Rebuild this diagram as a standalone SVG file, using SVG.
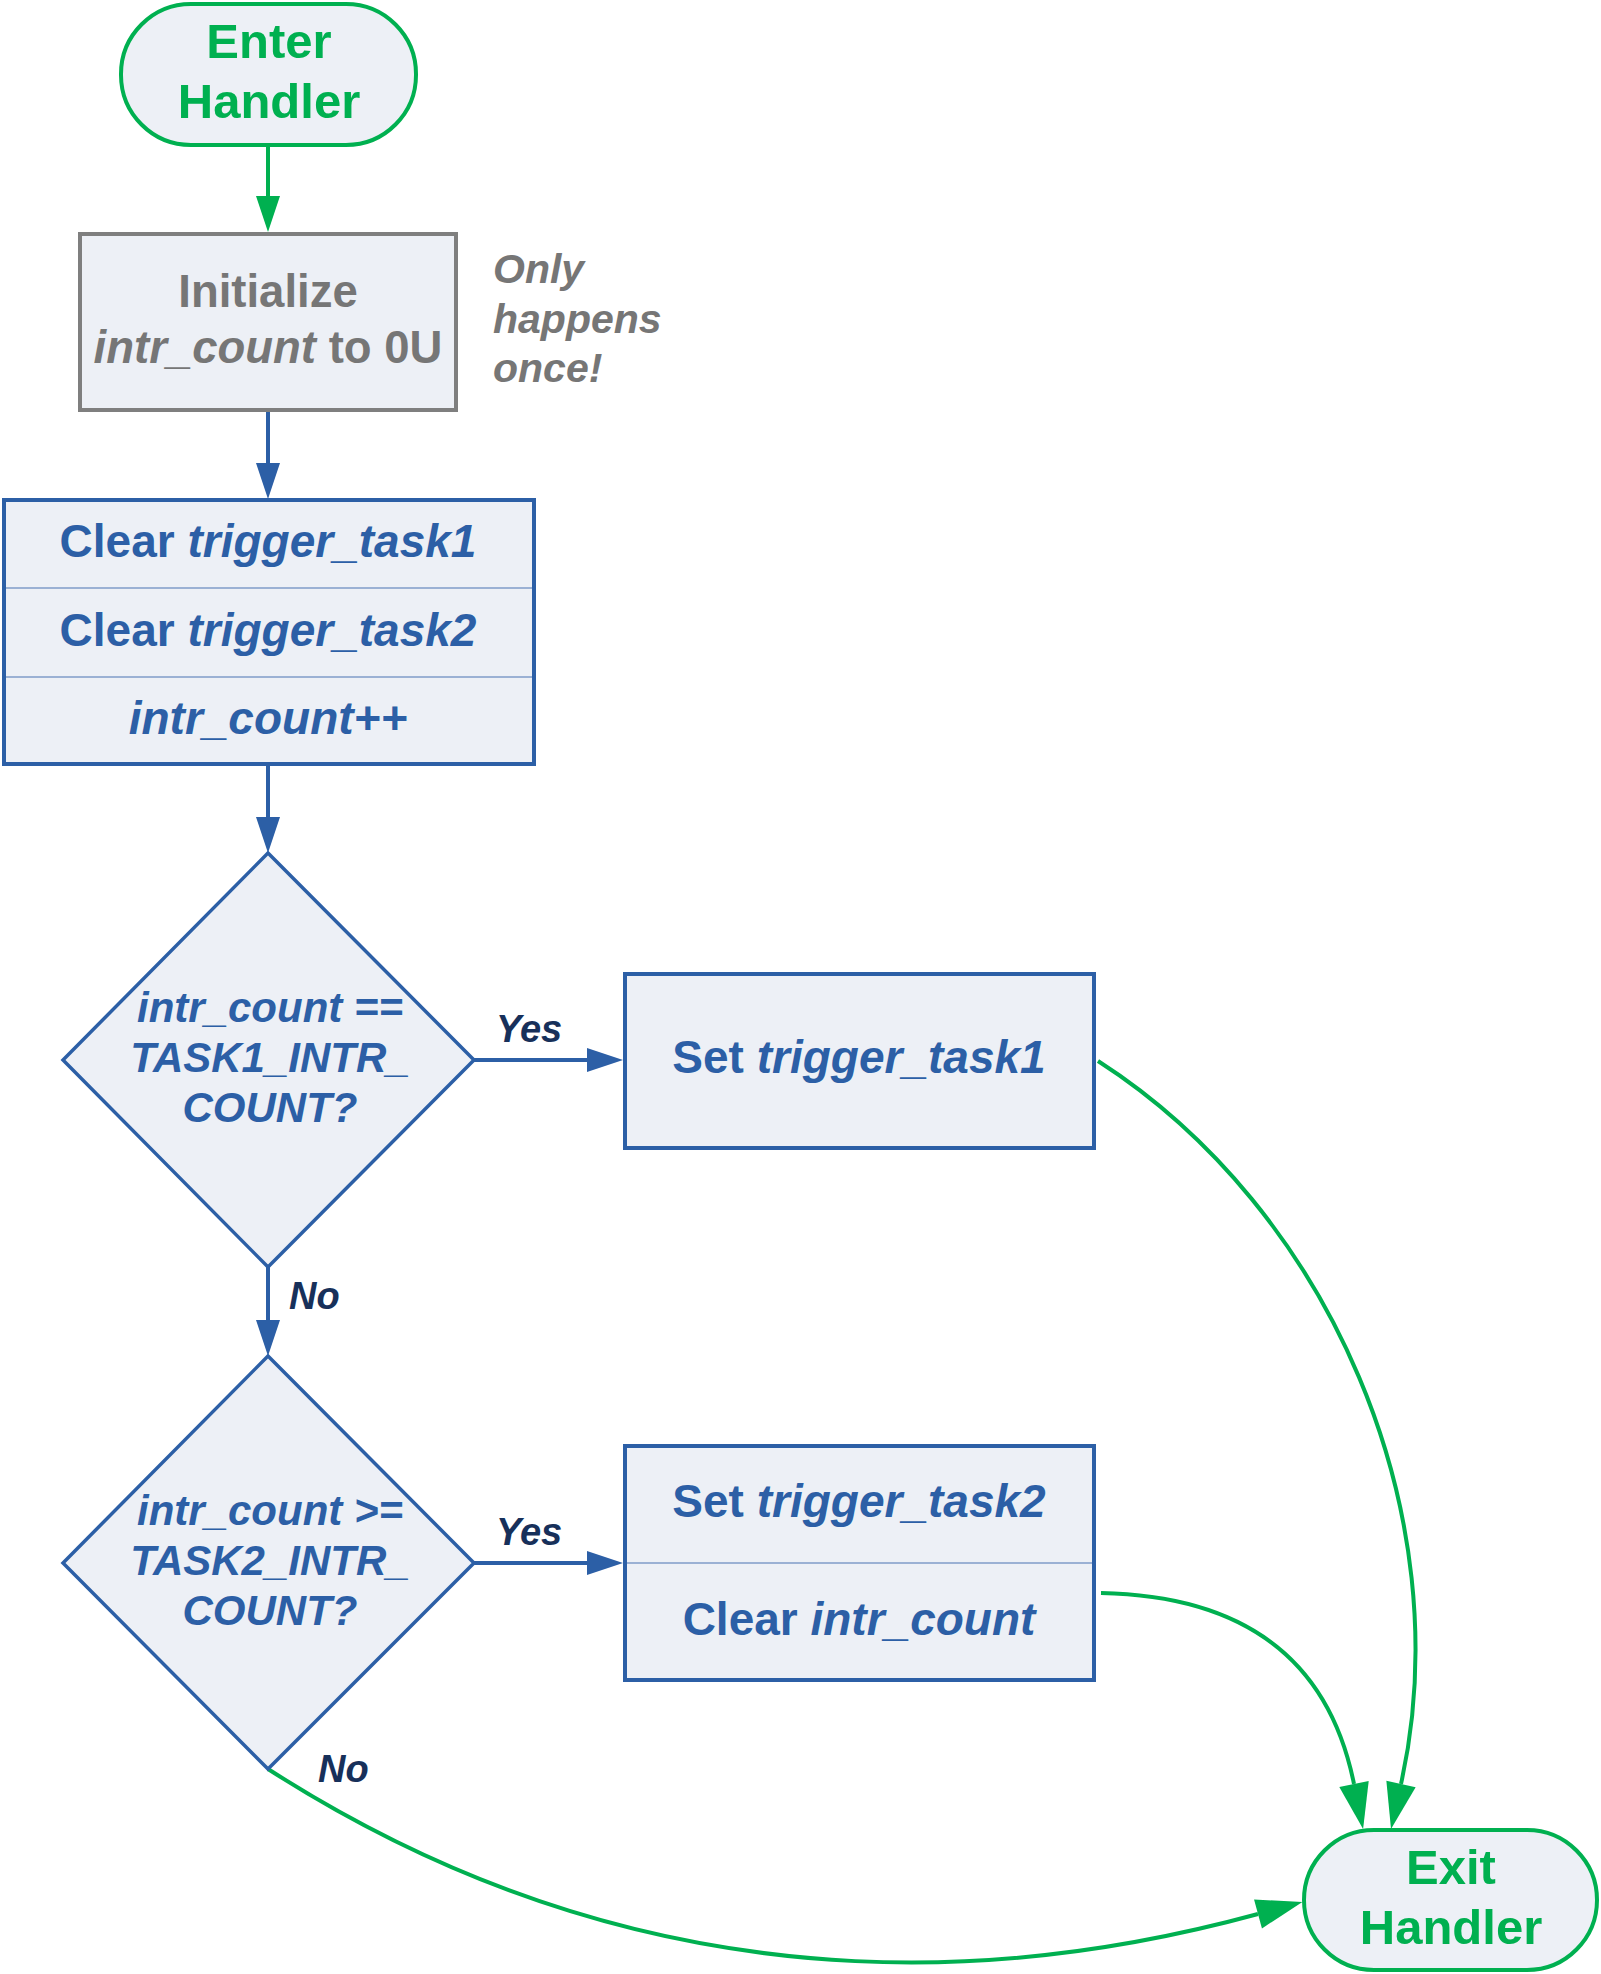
<svg xmlns="http://www.w3.org/2000/svg" width="1601" height="1974" viewBox="0 0 1601 1974">
<style>
text{font-family:"Liberation Sans",Arial,sans-serif;font-weight:bold;}
.c{text-anchor:middle;}
.i{font-style:italic;}
.term{fill:#EDF0F6;stroke:#00B050;stroke-width:4;}
.tg{fill:#00B050;font-size:49px;}
.box{fill:#EDF0F6;stroke:#2C5FA6;stroke-width:4;}
.gbox{fill:#EDF0F6;stroke:#7F7F7F;stroke-width:4;}
.dia{fill:#EDF0F6;stroke:#2C5FA6;stroke-width:3.5;stroke-linejoin:miter;}
.div{stroke:#7F9DC9;stroke-width:1.5;}
.bt{fill:#2C5FA6;font-size:46px;}
.dt{fill:#2C5FA6;font-size:42px;font-style:italic;}
.gt{fill:#767676;font-size:45.5px;}
.note{fill:#767676;font-size:41px;font-style:italic;}
.lbl{fill:#17305A;font-size:38px;font-style:italic;}
.cb{fill:none;stroke:#2C5FA6;stroke-width:4;}
.cg{fill:none;stroke:#00B050;stroke-width:4;}
</style>
<defs>
<marker id="ab" markerUnits="userSpaceOnUse" markerWidth="36" markerHeight="24" refX="0" refY="12" orient="auto" overflow="visible"><path d="M0,0 L36,12 L0,24 z" fill="#2C5FA6"/></marker>
<marker id="ag" markerUnits="userSpaceOnUse" markerWidth="36" markerHeight="24" refX="0" refY="12" orient="auto" overflow="visible"><path d="M0,0 L36,12 L0,24 z" fill="#00B050"/></marker>
<marker id="agl" markerUnits="userSpaceOnUse" markerWidth="46" markerHeight="30" refX="0" refY="15" orient="auto" overflow="visible"><path d="M0,0 L46,15 L0,30 z" fill="#00B050"/></marker>
</defs>

<g id="connectors">
<path class="cg" d="M268,147 L268,196" marker-end="url(#ag)"/>
<path class="cb" d="M268,412 L268,463" marker-end="url(#ab)"/>
<path class="cb" d="M268,766 L268,817" marker-end="url(#ab)"/>
<path class="cb" d="M474,1060 L587,1060" marker-end="url(#ab)"/>
<path class="cb" d="M268,1267 L268,1320" marker-end="url(#ab)"/>
<path class="cb" d="M474,1563 L587,1563" marker-end="url(#ab)"/>
<path class="cg" d="M1098,1061 C1330,1210 1461,1514 1401,1784" marker-end="url(#agl)"/>
<path class="cg" d="M1101,1593 C1250,1596 1330,1665 1354,1784" marker-end="url(#agl)"/>
<path class="cg" d="M268,1769 C690,2040 1082,1962 1258,1914" marker-end="url(#agl)"/>
<text class="lbl" x="496" y="1042">Yes</text>
<text class="lbl" x="496" y="1545">Yes</text>
<text class="lbl" x="289" y="1309">No</text>
<text class="lbl" x="318" y="1782">No</text>
</g>

<g id="enter">
<rect class="term" x="121" y="4" width="295" height="141" rx="70" ry="70"/>
<text class="tg c" x="269" y="58">Enter</text>
<text class="tg c" x="269" y="118">Handler</text>
</g>

<g id="init">
<rect class="gbox" x="80" y="234" width="376" height="176"/>
<text class="gt c" x="268" y="307">Initialize</text>
<text class="gt c" x="268" y="363"><tspan font-style="italic">intr_count</tspan> to 0U</text>
</g>

<g id="note">
<text class="note" x="493" y="283">Only</text>
<text class="note" x="493" y="333">happens</text>
<text class="note" x="493" y="382">once!</text>
</g>

<g id="clear">
<rect class="box" x="4" y="500" width="530" height="264"/>
<line class="div" x1="6" y1="588" x2="532" y2="588"/>
<line class="div" x1="6" y1="677" x2="532" y2="677"/>
<text class="bt c" x="268" y="557">Clear <tspan font-style="italic">trigger_task1</tspan></text>
<text class="bt c" x="268" y="646">Clear <tspan font-style="italic">trigger_task2</tspan></text>
<text class="bt c i" x="268" y="734">intr_count++</text>
</g>

<g id="decision1">
<polygon class="dia" points="268,853 474,1060 268,1267 63,1060"/>
<text class="dt c" x="270" y="1022">intr_count ==</text>
<text class="dt c" x="270" y="1072">TASK1_INTR_</text>
<text class="dt c" x="270" y="1122">COUNT?</text>
</g>

<g id="set1">
<rect class="box" x="625" y="974" width="469" height="174"/>
<text class="bt c" x="859" y="1073">Set <tspan font-style="italic">trigger_task1</tspan></text>
</g>

<g id="decision2">
<polygon class="dia" points="268,1356 474,1563 268,1769 63,1563"/>
<text class="dt c" x="270" y="1525">intr_count &gt;=</text>
<text class="dt c" x="270" y="1575">TASK2_INTR_</text>
<text class="dt c" x="270" y="1625">COUNT?</text>
</g>

<g id="set2">
<rect class="box" x="625" y="1446" width="469" height="234"/>
<line class="div" x1="627" y1="1563" x2="1092" y2="1563"/>
<text class="bt c" x="859" y="1517">Set <tspan font-style="italic">trigger_task2</tspan></text>
<text class="bt c" x="859" y="1635">Clear <tspan font-style="italic">intr_count</tspan></text>
</g>

<g id="exit">
<rect class="term" x="1304" y="1830" width="293" height="140" rx="70" ry="70"/>
<text class="tg c" x="1451" y="1884">Exit</text>
<text class="tg c" x="1451" y="1944">Handler</text>
</g>
</svg>
